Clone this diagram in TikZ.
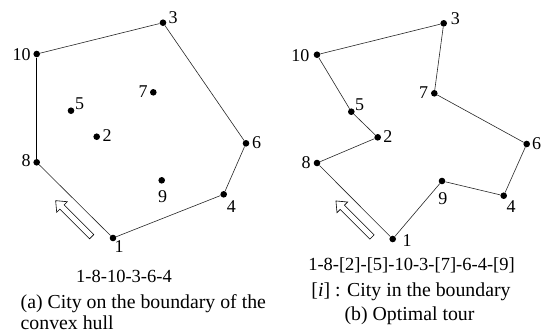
\documentclass[tikz,border=0pt]{standalone}
\usepackage{fontspec}
\setmainfont{Liberation Serif}
\begin{document}
\begin{tikzpicture}[x=1pt,y=-1pt,
  city/.style={circle,fill=black,inner sep=0pt,minimum size=6.6pt},
  lab/.style={inner sep=0pt,font=\fontsize{18}{20}\selectfont},
  seqtxt/.style={inner sep=0pt,anchor=base,font=\fontsize{18.5}{21}\selectfont},
  captxt/.style={inner sep=0pt,anchor=base,font=\fontsize{19.8}{22}\selectfont},
  tourline/.style={draw=black!85,line width=0.6pt},
  hullline/.style={draw=black,line width=1.2pt},
  harrow/.style={draw=black,line width=0.6pt,fill=white}]
\useasboundingbox (0,0) rectangle (543,333);
% ---------- left panel
\node[city] (a3) at (163,22.7) {};
\node[city] (a10) at (36.7,54) {};
\node[city] (a7) at (153.3,92.3) {};
\node[city] (a5) at (71,110.7) {};
\node[city] (a2) at (96.7,136.7) {};
\node[city] (a6) at (246,143.3) {};
\node[city] (a8) at (36.7,162.3) {};
\node[city] (a9) at (161.7,180.3) {};
\node[city] (a4) at (223.7,194.3) {};
\node[city] (a1) at (113,238) {};
\node[lab] (la3) at (173,18) {3};
\node[lab] (la10) at (21.7,54.7) {10};
\node[lab] (la7) at (143,91.7) {7};
\node[lab] (la5) at (79.5,104) {5};
\node[lab] (la2) at (107,136) {2};
\node[lab] (la6) at (256.7,142.7) {6};
\node[lab] (la8) at (26,161) {8};
\node[lab] (la9) at (162.5,196.7) {9};
\node[lab] (la4) at (231.3,206.7) {4};
\node[lab] (la1) at (119,247) {1};
\draw[tourline] (a1) -- (a8);
\draw[hullline] (a8) -- (a10);
\draw[tourline] (a10) -- (a3) -- (a6) -- (a4) -- (a1);
\begin{scope}[shift={(91.7,236.7)},rotate=135]
\draw[harrow] (0,-3) -- (42,-3) -- (42,-7.5) -- (51,0) -- (42,7.5) -- (42,3) -- (0,3) -- cycle;
\end{scope}
\node[seqtxt] (ca1) at (124,282.3) {1-8-10-3-6-4};
\node[captxt,anchor=base west] (ca2) at (20.5,308.3) {(a) City on the boundary of the};
\node[captxt,anchor=base west] (ca3) at (20.5,329.5) {convex hull};
% ---------- right panel
\node[city] (b3) at (443.7,23.3) {};
\node[city] (b10) at (317,54.7) {};
\node[city] (b7) at (434.3,93.3) {};
\node[city] (b5) at (351.3,111.7) {};
\node[city] (b2) at (377.7,137.3) {};
\node[city] (b6) at (526.7,144) {};
\node[city] (b8) at (317,163) {};
\node[city] (b9) at (442,181) {};
\node[city] (b4) at (503.7,195.7) {};
\node[city] (b1) at (392.7,239) {};
\node[lab] (lb3) at (455.3,18.7) {3};
\node[lab] (lb10) at (300.3,56) {10};
\node[lab] (lb7) at (423.7,92.7) {7};
\node[lab] (lb5) at (359.5,105) {5};
\node[lab] (lb2) at (387.8,136.7) {2};
\node[lab] (lb6) at (536.5,144) {6};
\node[lab] (lb8) at (306,163) {8};
\node[lab] (lb9) at (442.8,199) {9};
\node[lab] (lb4) at (511,206.7) {4};
\node[lab] (lb1) at (407,241) {1};
\draw[tourline] (b1) -- (b8) -- (b2) -- (b5) -- (b10) -- (b3) -- (b7) -- (b6) -- (b4) -- (b9) -- (b1);
\begin{scope}[shift={(372,237)},rotate=135]
\draw[harrow] (0,-3) -- (42,-3) -- (42,-7.5) -- (51,0) -- (42,7.5) -- (42,3) -- (0,3) -- cycle;
\end{scope}
\node[seqtxt] (cb1) at (411.5,270.7) {1-8-[2]-[5]-10-3-[7]-6-4-[9]};
\node[captxt] (cb2) at (411,296.7) {[\textit{i}] : City in the boundary};
\node[captxt] (cb3) at (409.5,320) {(b) Optimal tour};
\end{tikzpicture}
\end{document}
